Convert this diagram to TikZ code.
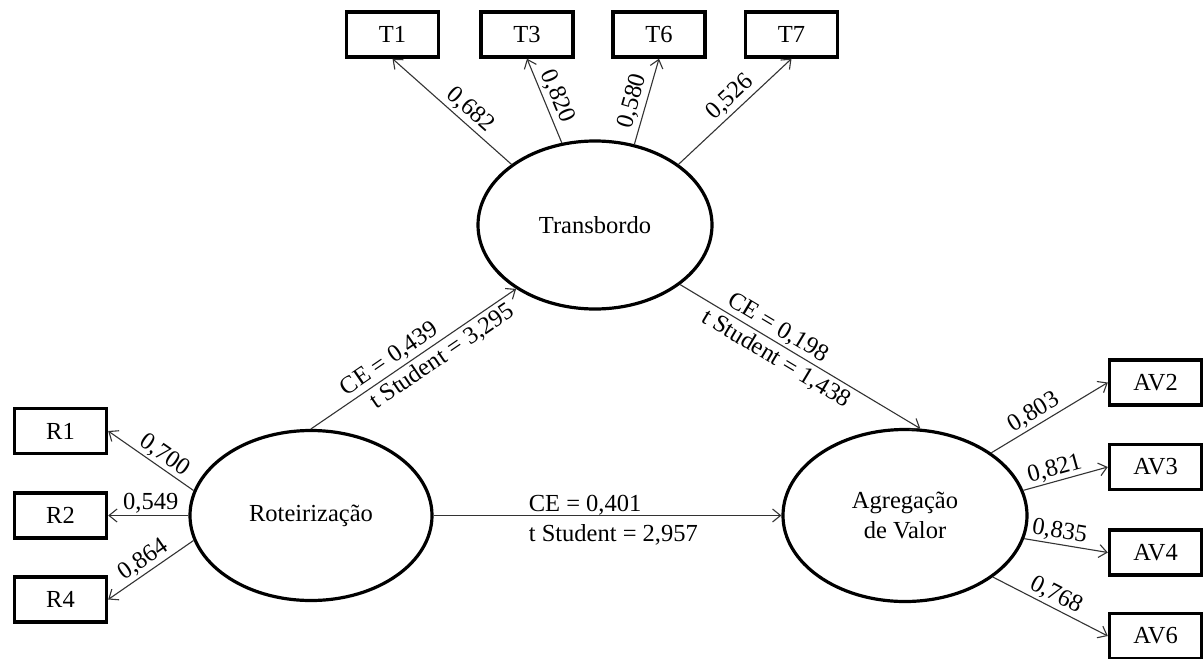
\documentclass[tikz,border=0pt]{standalone}
\usepackage{fontspec}
\setmainfont{Liberation Serif}
\usetikzlibrary{shapes.geometric,arrows.meta}
\tikzset{
  lat/.style={ellipse, draw, line width=3.2pt, inner sep=0pt, align=center,
    font=\fontsize{24.5}{30}\selectfont},
  ind/.style={draw, line width=3.4pt, minimum width=92pt, minimum height=45pt,
    inner sep=0pt, font=\fontsize{24.5}{28}\selectfont},
  conn/.style={draw=black!80, line width=1.1pt, -{Straight Barb[length=8pt,width=13pt]}},
  lab/.style={font=\fontsize{24.5}{28}\selectfont, inner sep=3pt, text=black}
}
\begin{document}
\begin{tikzpicture}[x=1pt,y=-1pt]
\useasboundingbox[fill=white] (0,0) rectangle (1203,659);
% latent variables
\node[lat, minimum width=234pt, minimum height=168pt] (T) at (595,225) {Transbordo};
\node[lat, minimum width=242pt, minimum height=170pt] (R) at (311,515.5) {Roteirização};
\node[lat, minimum width=244pt, minimum height=172pt] (A) at (905,515.5) {Agregação\\de Valor};
% indicators
\node[ind] (T1) at (392.5,34.5) {T1};
\node[ind] (T3) at (527,34.5) {T3};
\node[ind] (T6) at (659,34.5) {T6};
\node[ind] (T7) at (791.5,34.5) {T7};
\node[ind] (R1) at (60.5,431) {R1};
\node[ind] (R2) at (60.5,515.5) {R2};
\node[ind] (R4) at (60.5,599.5) {R4};
\node[ind] (AV2) at (1155.5,382.5) {AV2};
\node[ind] (AV3) at (1155.5,467) {AV3};
\node[ind] (AV4) at (1155.5,552.5) {AV4};
\node[ind] (AV6) at (1155.5,636) {AV6};
% loadings
\draw[conn] (T.144) -- node[lab, sloped, above, pos=0.42] {0,682} (T1.south);
\draw[conn] (T.112) -- node[lab, sloped, above, pos=0.49] {0,820} (T3.south);
\draw[conn] (T.64) -- node[lab, sloped, above, pos=0.46] {0,580} (T6.south);
\draw[conn] (T.36) -- node[lab, sloped, above, pos=0.54] {0,526} (T7.south);
\draw[conn] (R.168) -- node[lab, sloped, above, pos=0.42, inner sep=2pt] {0,700} (R1.east);
\draw[conn] (R.west) -- node[lab, sloped, above, pos=0.47, inner sep=1.5pt] {0,549} (R2.east);
\draw[conn] (R.192) -- node[lab, sloped, above, pos=0.5, inner sep=2pt] {0,864} (R4.east);
\draw[conn] (A.36) -- node[lab, sloped, above, pos=0.42, inner sep=2pt] {0,803} (AV2.west);
\draw[conn] (A.12) -- node[lab, sloped, above, pos=0.41, inner sep=1.5pt] {0,821} (AV3.west);
\draw[conn] (A.-11) -- node[lab, sloped, above, pos=0.4, inner sep=1.5pt] {0,835} (AV4.west);
\draw[conn] (A.-35) -- node[lab, sloped, above, pos=0.5, inner sep=2pt] {0,768} (AV6.west);
% structural paths
\draw[conn] (R.north) -- node[lab, sloped, above, pos=0.42, inner sep=2.5pt] {CE = 0,439}
  node[lab, sloped, below, pos=0.6, inner sep=3.5pt] {t Student = 3,295} (T.219);
\draw[conn] (T.-35) -- node[lab, sloped, above, pos=0.38, inner sep=2.5pt] {CE = 0,198}
  node[lab, sloped, below, pos=0.43, inner sep=3.5pt] {t Student = 1,438} (A.80);
\draw[conn] (R.east) -- node[lab, pos=0.268, anchor=base west, inner sep=1.5pt, yshift=4pt] {CE = 0,401}
  node[lab, pos=0.268, anchor=base west, inner sep=1.5pt, yshift=-26pt] {t Student = 2,957} (A.west);
\end{tikzpicture}
\end{document}
